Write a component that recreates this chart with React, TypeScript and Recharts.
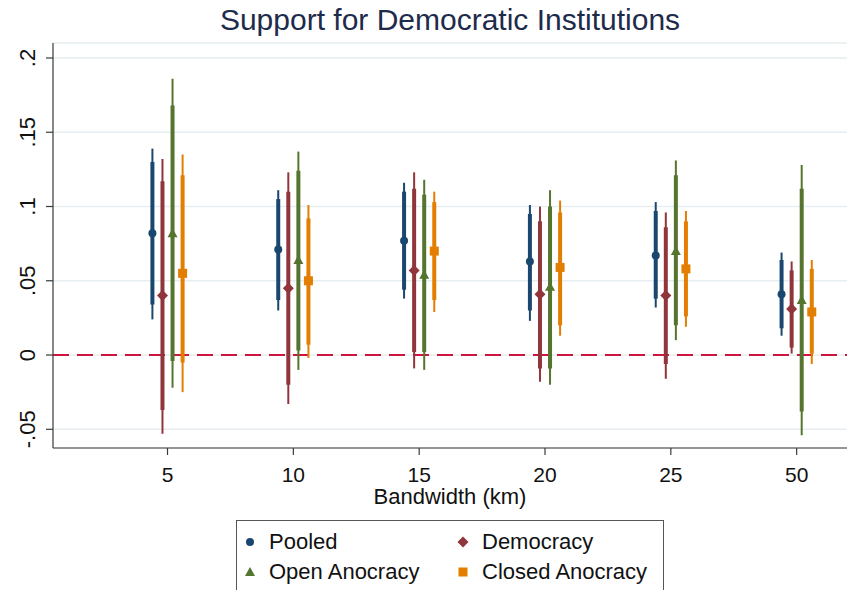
import { CartesianGrid, ErrorBar, ReferenceLine, Scatter, ScatterChart, XAxis, YAxis } from 'recharts'

const FONT = '"Liberation Sans", Arial, sans-serif'

const bandwidths = ['5', '10', '15', '20', '25', '50']
const xTicks = [1, 2, 3, 4, 5, 6]
const yTicks = [-0.05, 0, 0.05, 0.1, 0.15, 0.2]

// point estimates with 90% (thick) and 95% (thin) intervals
const pooledEst = [0.082, 0.071, 0.077, 0.063, 0.067, 0.041]
const pooledLo95 = [0.024, 0.03, 0.038, 0.023, 0.032, 0.013]
const pooledHi95 = [0.139, 0.111, 0.116, 0.101, 0.103, 0.069]
const pooledLo90 = [0.034, 0.037, 0.044, 0.03, 0.038, 0.018]
const pooledHi90 = [0.13, 0.105, 0.11, 0.095, 0.097, 0.064]

const democracyEst = [0.04, 0.045, 0.057, 0.041, 0.04, 0.031]
const democracyLo95 = [-0.053, -0.033, -0.009, -0.018, -0.016, 0.001]
const democracyHi95 = [0.132, 0.123, 0.123, 0.1, 0.096, 0.063]
const democracyLo90 = [-0.037, -0.02, 0.002, -0.009, -0.006, 0.005]
const democracyHi90 = [0.117, 0.11, 0.112, 0.09, 0.086, 0.057]

const openEst = [0.082, 0.064, 0.054, 0.046, 0.07, 0.037]
const openLo95 = [-0.022, -0.01, -0.01, -0.02, 0.01, -0.054]
const openHi95 = [0.186, 0.137, 0.118, 0.111, 0.131, 0.128]
const openLo90 = [-0.004, 0.003, 0.002, -0.009, 0.02, -0.038]
const openHi90 = [0.168, 0.124, 0.108, 0.1, 0.121, 0.112]

const closedEst = [0.055, 0.05, 0.07, 0.059, 0.058, 0.029]
const closedLo95 = [-0.025, -0.002, 0.029, 0.013, 0.019, -0.006]
const closedHi95 = [0.135, 0.101, 0.11, 0.104, 0.097, 0.064]
const closedLo90 = [-0.005, 0.007, 0.037, 0.02, 0.026, 0.001]
const closedHi90 = [0.121, 0.092, 0.103, 0.096, 0.09, 0.058]

type Kind = 'circle' | 'diamond' | 'triangle' | 'square'

const SERIES: {
  name: string
  color: string
  kind: Kind
  offset: number
  est: number[]
  lo95: number[]
  hi95: number[]
  lo90: number[]
  hi90: number[]
}[] = [
  { name: 'Pooled', color: '#1a476f', kind: 'circle', offset: -0.12, est: pooledEst, lo95: pooledLo95, hi95: pooledHi95, lo90: pooledLo90, hi90: pooledHi90 },
  { name: 'Democracy', color: '#90353b', kind: 'diamond', offset: -0.04, est: democracyEst, lo95: democracyLo95, hi95: democracyHi95, lo90: democracyLo90, hi90: democracyHi90 },
  { name: 'Open Anocracy', color: '#55752f', kind: 'triangle', offset: 0.04, est: openEst, lo95: openLo95, hi95: openHi95, lo90: openLo90, hi90: openHi90 },
  { name: 'Closed Anocracy', color: '#e37e00', kind: 'square', offset: 0.12, est: closedEst, lo95: closedLo95, hi95: closedHi95, lo90: closedLo90, hi90: closedHi90 },
]

type Row = { pos: number; est: number; lo95: number; hi95: number; lo90: number; hi90: number }

// scatter points spread the row in but overwrite x/y with pixels, so read from payload
const rowOf = (d: any): Row => (d && d.payload ? d.payload : d)
const ci95 = (d: any) => {
  const r = rowOf(d)
  return [r.est - r.lo95, r.hi95 - r.est]
}
const ci90 = (d: any) => {
  const r = rowOf(d)
  return [r.est - r.lo90, r.hi90 - r.est]
}

function Marker({ cx, cy, kind, color }: { cx: number; cy: number; kind: Kind; color: string }) {
  if (cx == null || cy == null) return null
  if (kind === 'circle') return <circle cx={cx} cy={cy} r={4} fill={color} />
  if (kind === 'diamond')
    return <polygon points={`${cx},${cy - 5.5} ${cx + 5.5},${cy} ${cx},${cy + 5.5} ${cx - 5.5},${cy}`} fill={color} />
  if (kind === 'triangle')
    return <polygon points={`${cx},${cy - 5} ${cx + 5},${cy + 4} ${cx - 5},${cy + 4}`} fill={color} />
  return <rect x={cx - 4.5} y={cy - 4.5} width={9} height={9} fill={color} />
}

const fmtY = (v: number) => {
  if (v === 0) return '0'
  const s = String(Math.abs(v)).replace(/^0/, '')
  return v < 0 ? '-' + s : s
}

function YTick({ x, y, payload }: any) {
  return (
    <text x={x} y={y} transform={`rotate(-90 ${x} ${y})`} textAnchor="middle" fontSize={22} fontFamily={FONT} fill="#111">
      {fmtY(payload.value)}
    </text>
  )
}

function XTick({ x, y, payload }: any) {
  return (
    <text x={x} y={y} dy={25} textAnchor="middle" fontSize={21} fontFamily={FONT} fill="#111">
      {bandwidths[payload.value - 1]}
    </text>
  )
}

export default function App() {
  return (
    <div style={{ position: 'absolute', left: 0, top: 0, width: 849, height: 590, overflow: 'hidden', background: '#fff' }}>
      <ScatterChart width={849} height={590} margin={{ top: 43, right: 2, bottom: 82, left: 0 }}>
        <CartesianGrid vertical={false} stroke="#e6eef1" strokeWidth={1.5} />
        <XAxis
          type="number"
          dataKey="pos"
          domain={[0.09, 6.4]}
          allowDataOverflow
          ticks={xTicks}
          height={60}
          tick={<XTick />}
          tickSize={7}
          tickMargin={2}
          axisLine={{ stroke: '#3a3a3a', strokeWidth: 1.2 }}
          tickLine={{ stroke: '#3a3a3a', strokeWidth: 1.2 }}
          label={{ value: 'Bandwidth (km)', position: 'insideBottom', offset: 4, fontSize: 22, fontFamily: FONT, fill: '#111' }}
        />
        <YAxis
          type="number"
          dataKey="est"
          domain={[-0.0626, 0.2101]}
          allowDataOverflow
          ticks={yTicks}
          width={53}
          tick={<YTick />}
          tickSize={7}
          tickMargin={11}
          axisLine={{ stroke: '#3a3a3a', strokeWidth: 1.2 }}
          tickLine={{ stroke: '#3a3a3a', strokeWidth: 1.2 }}
        />
        <ReferenceLine y={0} stroke="#cc1640" strokeWidth={2} strokeDasharray="16 8" />
        {SERIES.map((s) => {
          const data: Row[] = bandwidths.map((_, i) => ({
            pos: i + 1 + s.offset,
            est: s.est[i],
            lo95: s.lo95[i],
            hi95: s.hi95[i],
            lo90: s.lo90[i],
            hi90: s.hi90[i],
          }))
          return (
            <Scatter
              key={s.name}
              name={s.name}
              data={data}
              fill={s.color}
              isAnimationActive={false}
              shape={(p: any) => <Marker cx={p.cx} cy={p.cy} kind={s.kind} color={s.color} />}
            >
              <ErrorBar direction="y" dataKey={ci95} width={0} stroke={s.color} strokeWidth={2} isAnimationActive={false} />
              <ErrorBar direction="y" dataKey={ci90} width={0} stroke={s.color} strokeWidth={4} isAnimationActive={false} />
            </Scatter>
          )
        })}
      </ScatterChart>
      <svg width={849} height={590} style={{ position: 'absolute', left: 0, top: 0, pointerEvents: 'none' }}>
        <text x={450} y={30} textAnchor="middle" fontSize={30} fontFamily={FONT} fill="#1e2b4a">
          Support for Democratic Institutions
        </text>
        <rect x={236.5} y={520.5} width={427} height={90} fill="none" stroke="#555" strokeWidth={1} />
        {SERIES.map((s, i) => {
          const mx = i % 2 === 0 ? 250 : 463
          const ty = i < 2 ? 549 : 579
          const my = ty - 7
          return (
            <g key={s.name}>
              <Marker cx={mx} cy={my} kind={s.kind} color={s.color} />
              <text x={mx + 19} y={ty} fontSize={22} fontFamily={FONT} fill="#111">
                {s.name}
              </text>
            </g>
          )
        })}
      </svg>
    </div>
  )
}
